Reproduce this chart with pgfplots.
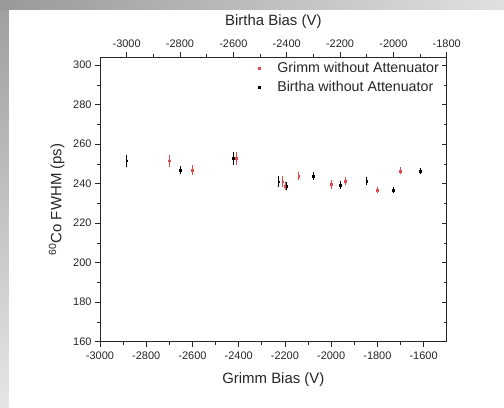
\documentclass[border=0pt]{standalone}
\usepackage{fontspec}
\setmainfont{Liberation Sans}
\usepackage{pgfplots}
\pgfplotsset{compat=1.18}
\usepackage{pgfplotstable}

% FWHM of the 60Co timing peak versus detector bias
\pgfplotstableread{
x     y      e
-2700 251.6  2.0
-2600 246.9  1.2
-2410 252.8  2.0
-2210 241.0  1.5
-2200 238.8  0.8
-2140 244.0  0.8
-2000 239.6  1.0
-1940 241.3  1.0
-1800 236.9  0.5
-1700 246.5  0.6
}\grimm

\pgfplotstableread{
x     y      e
-3000 251.6  2.0
-2800 246.9  1.0
-2600 252.8  2.0
-2430 241.0  1.5
-2400 238.8  1.0
-2300 244.0  0.8
-2200 239.3  0.8
-2100 241.3  1.0
-2000 236.9  0.5
-1900 246.5  0.5
}\birtha

\definecolor{grimmred}{RGB}{225,75,75}

\pgfplotsset{
  frame/.style={
    scale only axis, width=346.7bp, height=284.4bp,
    at={(0,0)}, anchor=south west,
    ymin=160, ymax=304,
    axis line style={line width=0.9pt, black!85},
    tick style={line width=0.7pt, black!85},
    major tick length=5bp, minor tick length=3bp,
    /pgf/number format/assume math mode=true,
    /pgf/number format/set thousands separator={},
    tick label style={font=\fontsize{11}{13}\selectfont, text=black!85},
    label style={font=\fontsize{15}{18}\selectfont, text=black!85},
  },
  pts/.style={only marks, mark=square*, mark size=0.9bp,
    error bars/.cd, y dir=both, y explicit,
    error bar style={line width=0.6pt},
    error mark options={line width=0.6pt, mark size=2.3bp}},
}

\begin{document}
\begin{tikzpicture}[x=1bp,y=1bp]
% page frame: the axis box starts at the origin
\path[use as bounding box] (-100,-65.3) rectangle (404,341.7);
\fill[white] (-100,-65.3) rectangle (404,341.7);
\shade[top color=black!38, bottom color=black!10] (-100,-65.3) rectangle (-91,341.7);
\shade[left color=black!40, right color=black!12] (-100,332.7) rectangle (404,341.7);

% bottom / left axes: Grimm bias
\begin{axis}[frame,
  xmin=-3000, xmax=-1500,
  xtick={-3000,-2800,...,-1600}, minor x tick num=1,
  ytick={160,180,...,300}, minor y tick num=1,
  xtick pos=bottom, ytick pos=left, tick align=outside,
  xticklabel style={yshift=-2bp},
  xlabel={Grimm Bias (V)},
  ylabel={\textsuperscript{60}Co FWHM (ps)},
  xlabel style={yshift=-6bp},
  ylabel style={yshift=2bp},
  legend cell align=left,
  legend image code/.code={%
    \path (0bp,0bp) (18bp,0bp);
    \draw[#1] plot coordinates {(2bp,0bp)};},
  legend style={draw=none, fill=none, inner sep=0pt,
    font=\fontsize{14.3}{17}\selectfont,
    at={(axis description cs:0.452,0.99)}, anchor=north west,
    row sep=3.5bp, text=black!85},
]
\addplot[color=grimmred, pts] table[x=x, y=y, y error=e] {\grimm};
\addlegendentry{Grimm without Attenuator}
\addlegendimage{only marks, mark=square*, mark size=0.9bp, black}
\addlegendentry{Birtha without Attenuator}
\end{axis}

% top axis: Birtha bias
\begin{axis}[frame,
  xmin=-3100, xmax=-1800,
  xtick={-3000,-2800,...,-1800}, minor x tick num=1,
  ytick=\empty,
  xtick pos=top, xticklabel pos=top, tick align=outside,
  xticklabel style={yshift=1bp},
  xlabel={Birtha Bias (V)},
  xlabel style={yshift=5bp},
  axis line style={draw=none},
]
\addplot[color=black, pts] table[x=x, y=y, y error=e] {\birtha};
\end{axis}

% right axis: ticks only
\begin{axis}[frame,
  xmin=-3000, xmax=-1500, xtick=\empty,
  ytick={160,180,...,300}, minor y tick num=1,
  ytick pos=right, yticklabels={}, tick align=inside,
  axis line style={draw=none},
]
\end{axis}
\end{tikzpicture}
\end{document}
